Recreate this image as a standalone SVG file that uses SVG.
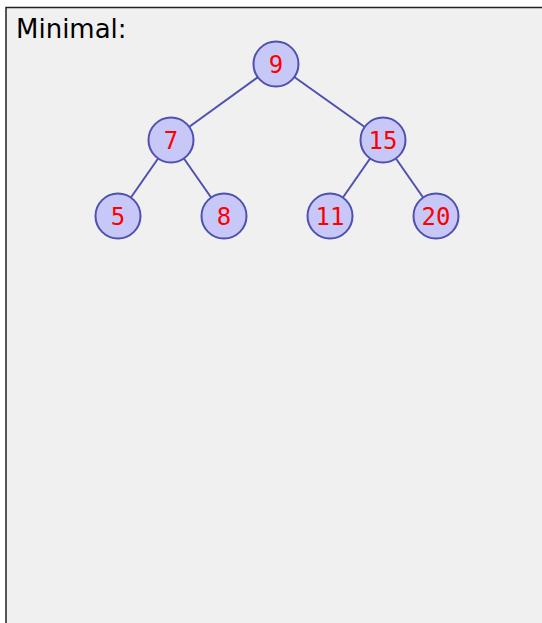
<svg xmlns="http://www.w3.org/2000/svg" width="542" height="623" viewBox="0 0 542 623">
<style>
.n circle{fill:#c8c8f8;stroke:#5050b0;stroke-width:2}
.n text{fill:#ff0000;font-family:"DejaVu Sans Mono",monospace;font-size:24px;text-anchor:middle;dominant-baseline:central}
#edges line{stroke:#5050b0;stroke-width:2}
</style>
<rect x="0" y="0" width="542" height="623" fill="#ffffff"/>
<rect x="6" y="7.5" width="540" height="620" fill="#f0f0f0" stroke="#222" stroke-width="1.5"/>
<text x="16" y="38" font-family="DejaVu Sans, sans-serif" font-size="26" fill="#000">Minimal:</text>
<g id="edges">
<line x1="276" y1="64" x2="171" y2="140"/>
<line x1="276" y1="64" x2="383" y2="140"/>
<line x1="171" y1="140" x2="118" y2="216"/>
<line x1="171" y1="140" x2="224" y2="216"/>
<line x1="383" y1="140" x2="330" y2="216"/>
<line x1="383" y1="140" x2="436" y2="216"/>
</g>
<g id="n9" class="n"><circle cx="276" cy="64" r="22.5"/><text x="276" y="65">9</text></g>
<g id="n7" class="n"><circle cx="171" cy="140" r="22.5"/><text x="171" y="141">7</text></g>
<g id="n15" class="n"><circle cx="383" cy="140" r="22.5"/><text x="383" y="141">15</text></g>
<g id="n5" class="n"><circle cx="118" cy="216" r="22.5"/><text x="118" y="217">5</text></g>
<g id="n8" class="n"><circle cx="224" cy="216" r="22.5"/><text x="224" y="217">8</text></g>
<g id="n11" class="n"><circle cx="330" cy="216" r="22.5"/><text x="330" y="217">11</text></g>
<g id="n20" class="n"><circle cx="436" cy="216" r="22.5"/><text x="436" y="217">20</text></g>
</svg>
